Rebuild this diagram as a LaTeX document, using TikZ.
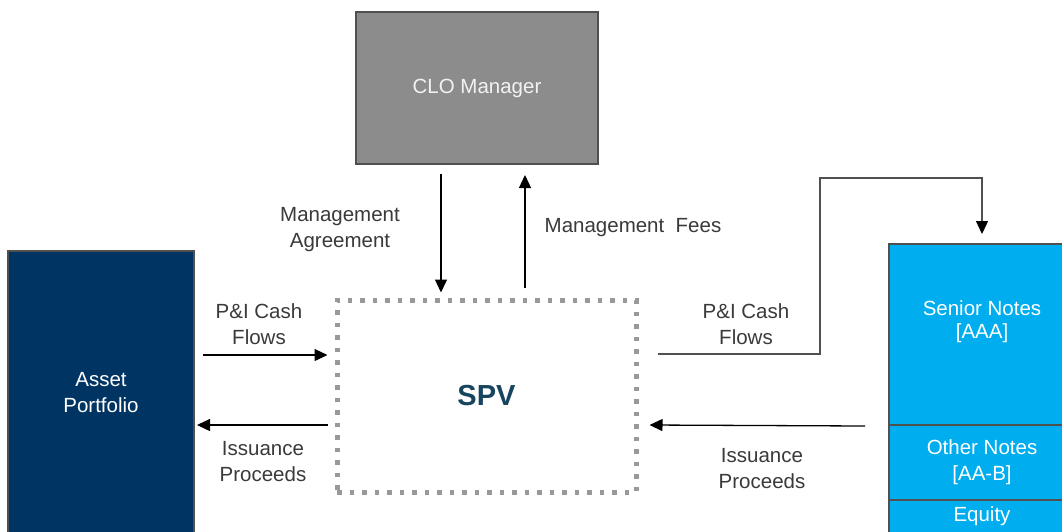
\documentclass[tikz,border=0pt]{standalone}
\usepackage{fontspec}
\setmainfont{Liberation Sans}
\usetikzlibrary{arrows.meta}
\definecolor{clogray}{HTML}{8C8C8C}
\definecolor{boxborder}{HTML}{505050}
\definecolor{assetblue}{HTML}{003462}
\definecolor{trancheblue}{HTML}{00ADEE}
\definecolor{spvtext}{HTML}{17445F}
\definecolor{labeltext}{HTML}{3A3A3A}
\definecolor{dotgray}{HTML}{999999}
\begin{document}
\begin{tikzpicture}[x=1pt,y=-1pt,
  txt/.style={font=\fontsize{20.5}{26}\selectfont, align=center},
  solidbox/.style={draw=boxborder, line width=2pt, inner sep=0pt, txt, text=white},
  lbl/.style={txt, text=labeltext, inner sep=0pt},
  arr/.style={draw=black, line width=1.3pt, -{Triangle[length=13pt,width=12pt]}},
  flow/.style={draw=boxborder, line width=1.3pt, -{Triangle[length=13pt,width=12pt,color=black,fill=black]}}
]
\useasboundingbox (0,0) rectangle (1062,531);
\clip (0,0) rectangle (1062,531);
\fill[white] (0,0) rectangle (1062,531);

% boxes
\node[solidbox, fill=clogray, text=white!95!black, minimum width=242pt, minimum height=152pt] (clo) at (477,88) {CLO Manager};
\node[draw=dotgray, line width=5pt, dash pattern=on 4.5pt off 8pt, inner sep=0pt,
      minimum width=299pt, minimum height=192pt,
      font=\fontsize{29}{34}\selectfont\bfseries, text=spvtext] (spv) at (486.5,396) {SPV};
\node[solidbox, fill=assetblue, minimum width=186pt, minimum height=284pt] (asset) at (101,393) {Asset\\Portfolio};
\node[solidbox, fill=trancheblue, minimum width=186pt, minimum height=181pt] (senior) at (982,334.5) {};
\node[txt, text=white, inner sep=0pt, font=\fontsize{20.5}{23}\selectfont] (seniortext) at ([yshift=13pt]senior.center) {Senior Notes\\{}[AAA]};
\node[solidbox, fill=trancheblue, minimum width=186pt, minimum height=75pt] (other) at (982,462.5) {Other Notes\\{}[AA-B]};
\node[solidbox, fill=trancheblue, minimum width=186pt, minimum height=33pt] (equity) at (982,516.5) {Equity};

% arrows between CLO manager and SPV
\draw[arr] ([xshift=-36pt,yshift=-9pt]clo.south) -- ([xshift=-45.5pt,yshift=5pt]spv.north);
\draw[arr] ([xshift=38.5pt,yshift=10pt]spv.north) -- ([xshift=48pt,yshift=-10pt]clo.south);

% arrows between asset portfolio and SPV
\draw[arr] ([xshift=8pt,yshift=38pt]asset.east) -- ([xshift=-7pt,yshift=41pt]spv.west);
\draw[arr] ([xshift=-7pt,yshift=-29pt]spv.west) -- ([xshift=2pt,yshift=-32pt]asset.east);

% arrows between SPV and notes
\coordinate (bend) at (820,178);
\draw[flow] ([xshift=19pt,yshift=42pt]spv.east) -| (bend) -| ([yshift=9pt]senior.north);
\draw[arr] ([xshift=-23pt]senior.south west) -- ([xshift=11pt,yshift=-29pt]spv.east);

% labels
\node[lbl] (lma) at (340,230) {Management\\Agreement};
\node[lbl] (lmf) at (633,228) {Management\ \ Fees};
\node[lbl] (lpi1) at (259,324) {P\&I Cash\\Flows};
\node[lbl] (lip1) at (263,462) {Issuance\\Proceeds};
\node[lbl] (lpi2) at (746,324) {P\&I Cash\\Flows};
\node[lbl] (lip2) at (762,469) {Issuance\\Proceeds};
\end{tikzpicture}
\end{document}
